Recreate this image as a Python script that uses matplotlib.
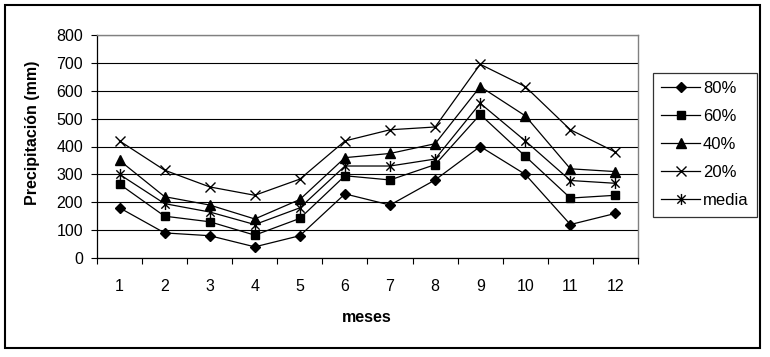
import matplotlib
matplotlib.use("Agg")
import matplotlib.pyplot as plt
from matplotlib.path import Path
from matplotlib.patches import Rectangle
import numpy as np

plt.rcParams['font.family'] = ['Liberation Sans', 'DejaVu Sans']

months = [1, 2, 3, 4, 5, 6, 7, 8, 9, 10, 11, 12]
p80 = [180, 90, 80, 40, 80, 230, 190, 280, 400, 300, 120, 160]
p60 = [265, 150, 130, 82, 142, 295, 280, 335, 515, 365, 215, 225]
p40 = [350, 220, 190, 140, 210, 360, 375, 410, 615, 510, 320, 310]
p20 = [420, 315, 255, 225, 283, 420, 460, 470, 695, 615, 460, 380]
media = [300, 195, 165, 120, 180, 330, 330, 355, 555, 420, 278, 268]
labels = ['80%', '60%', '40%', '20%', 'media']

W, H = 770, 357
fig = plt.figure(figsize=(W / 100, H / 100), dpi=100)

# outer border
fig.patches.append(Rectangle((5 / W, 1 - 348 / H), 755 / W, 343 / H,
                             transform=fig.transFigure, fill=False,
                             edgecolor='black', linewidth=1.5))

ax = fig.add_axes([97 / W, 1 - 258 / H, 541 / W, 223 / H])

ast = Path([(0, -1), (0, 1), (-0.75, -0.75), (0.75, 0.75), (-0.75, 0.75), (0.75, -0.75)],
           [Path.MOVETO, Path.LINETO, Path.MOVETO, Path.LINETO, Path.MOVETO, Path.LINETO])

series = [p80, p60, p40, p20, media]
markers = ['D', 's', '^', 'x', ast]
msizes = [5, 6, 7, 7, 8]
for ys, m, ms, lab in zip(series, markers, msizes, labels):
    ax.plot(months, ys, color='black', linewidth=0.9, marker=m, markersize=ms,
            markerfacecolor='black', markeredgecolor='black', markeredgewidth=1.0,
            label=lab)

ax.set_xlim(0.5, 12.5)
ax.set_ylim(0, 800)
ax.set_yticks(np.arange(0, 801, 100))
ax.set_xticks(np.arange(0.5, 12.6, 1))
ax.set_xticklabels([])
ax.set_xticks(months, minor=True)
ax.set_xticklabels([str(m) for m in months], minor=True)
ax.tick_params(axis='x', which='major', direction='out', length=4, width=0.8, color='black')
ax.tick_params(axis='x', which='minor', length=0, pad=15, labelsize=11.5)
ax.tick_params(axis='y', direction='out', length=4, width=0.8, pad=6, labelsize=11.5)

ax.grid(axis='y', color='black', linewidth=0.8)
ax.set_axisbelow(True)
for s in ['top', 'right']:
    ax.spines[s].set_color('#808080')
    ax.spines[s].set_linewidth(1.0)
for s in ['left', 'bottom']:
    ax.spines[s].set_color('black')
    ax.spines[s].set_linewidth(0.9)

fig.text(33 / W, 1 - 133 / H, 'Precipitación (mm)', rotation=90, fontsize=11.5,
         fontweight='bold', ha='center', va='center')
fig.text(367 / W, 1 - 317 / H, 'meses', fontsize=11.5, fontweight='bold',
         ha='center', va='center')

leg = fig.legend(loc='upper left', bbox_to_anchor=(653 / W, 1 - 73 / H),
                 bbox_transform=fig.transFigure, borderaxespad=0, fontsize=12,
                 frameon=True, fancybox=False, handlelength=2.3, handletextpad=0.2,
                 labelspacing=0.78, borderpad=0.5)
leg.get_frame().set_edgecolor('black')
leg.get_frame().set_linewidth(0.9)

fig.savefig('out.png', dpi=100)
